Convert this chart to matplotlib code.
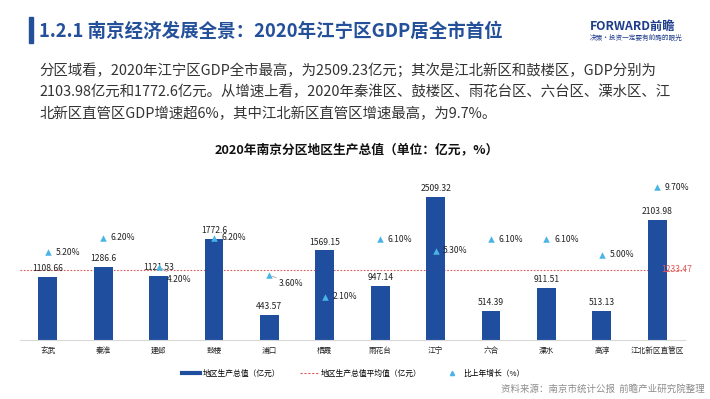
import matplotlib
matplotlib.use('Agg')
import matplotlib.pyplot as plt
from matplotlib.lines import Line2D
from matplotlib.patches import Rectangle

plt.rcParams['font.family'] = ['Noto Sans CJK SC', 'DejaVu Sans']

districts = ['玄武', '秦淮', '建邺', '鼓楼', '浦口', '栖霞', '雨花台', '江宁', '六合', '溧水', '高淳', '江北新区直管区']
gdp = [1108.66, 1286.6, 1121.53, 1772.6, 443.57, 1569.15, 947.14, 2509.32, 514.39, 911.51, 513.13, 2103.98]
growth = [5.2, 6.2, 4.2, 6.2, 3.6, 2.1, 6.1, 5.3, 6.1, 6.1, 5.0, 9.7]
gdp_avg = 1233.47

title = '1.2.1 南京经济发展全景：2020年江宁区GDP居全市首位'
para = ['分区域看，2020年江宁区GDP全市最高，为2509.23亿元；其次是江北新区和鼓楼区，GDP分别为',
        '2103.98亿元和1772.6亿元。从增速上看，2020年秦淮区、鼓楼区、雨花台区、六台区、溧水区、江',
        '北新区直管区GDP增速超6%，其中江北新区直管区增速最高，为9.7%。']
chart_title = '2020年南京分区地区生产总值（单位：亿元，%）'
source = '资料来源：南京市统计公报  前瞻产业研究院整理'

BLUE = '#1f4e9f'
CYAN = '#4ab4e6'
RED = '#e05a5a'

W, H = 710, 399
def fx(px): return px / W
def fy(py): return 1 - py / H

fig = plt.figure(figsize=(7.1, 3.99), dpi=100)
fig.patch.set_facecolor('white')

# header
fig.add_artist(Rectangle((fx(29), fy(43)), fx(4), 26 / H, color='#24509a', transform=fig.transFigure))
fig.text(fx(39), fy(31), title, fontsize=13.3, fontweight='bold', color='#24509a', va='center')
fig.text(fx(590), fy(26), 'FORWARD前瞻', fontsize=8.8, fontweight='bold', color='#1e3c8c', va='center')
fig.text(fx(590), fy(38), '决策·投资一定要有前瞻的眼光', fontsize=4.8, color='#1e3c8c', va='center')

for i, line in enumerate(para):
    fig.text(fx(39), fy(70 + 22 * i), line, fontsize=10.4, color='#333333', va='center')

fig.text(fx(357), fy(150), chart_title, fontsize=9.2, fontweight='bold', color='#111111',
         ha='center', va='center')

# chart
ax = fig.add_axes([fx(20), fy(340), (685 - 20) / W, (340 - 170) / H])
x = list(range(len(districts)))
ax.bar(x, gdp, width=0.34, color=BLUE, zorder=2)
ax.set_xlim(-0.5, len(districts) - 0.5)
ax.set_ylim(0, 2977)
for s in ['top', 'right', 'left']:
    ax.spines[s].set_visible(False)
ax.spines['bottom'].set_color('#d9d9d9')
ax.set_yticks([])
ax.set_xticks(x)
ax.set_xticklabels(districts, fontsize=5.5, color='#222222')
ax.tick_params(axis='x', length=0, pad=5)

for xi, v in zip(x, gdp):
    ax.annotate(f'{v:g}', (xi, v), xytext=(0, 2.5), textcoords='offset points',
                ha='center', va='bottom', fontsize=6.2, color='#222222', zorder=3)

ax.axhline(gdp_avg, color=RED, lw=0.8, ls=(0, (1.5, 1.5)), zorder=1)
ax.annotate(f'{gdp_avg:.2f}', xy=(1, gdp_avg), xycoords=ax.get_yaxis_transform(),
            xytext=(5, 0), textcoords='offset points', ha='right', va='center',
            fontsize=6.2, color=RED, zorder=4)

ax2 = ax.twinx()
ax2.set_ylim(-0.903, 10.90)
ax2.axis('off')
ax2.scatter(x, growth, marker='^', s=22, color=CYAN, zorder=5, linewidths=0)

# labels pushed down with a leader line
moved = {2: (6, -9), 4: (7, -6)}
for xi, g in zip(x, growth):
    label = f'{g:.2f}%'
    if xi in moved:
        ax2.annotate(label, (xi, g), xytext=moved[xi], textcoords='offset points',
                     ha='left', va='center', fontsize=6.2, color='#222222',
                     arrowprops=dict(arrowstyle='-', color='#999999', lw=0.5, shrinkA=0, shrinkB=2))
    else:
        ax2.annotate(label, (xi, g), xytext=(5.5, 0), textcoords='offset points',
                     ha='left', va='center', fontsize=6.2, color='#222222')

handles = [Line2D([], [], color=BLUE, lw=3),
           Line2D([], [], color=RED, lw=0.8, ls=(0, (2, 1.5))),
           Line2D([], [], color=CYAN, marker='^', ls='none', markersize=3)]
labels = ['地区生产总值（亿元）', '地区生产总值平均值（亿元）', '比上年增长（%）']
fig.legend(handles, labels, loc='center', bbox_to_anchor=(fx(353), fy(374)), ncol=3,
           frameon=False, fontsize=5.6, handlelength=2.4, handletextpad=0.3, columnspacing=2.6)

fig.text(fx(705), fy(389), source, fontsize=6.8, color='#8c8c8c', ha='right', va='center')

fig.savefig('out.png', dpi=100)
